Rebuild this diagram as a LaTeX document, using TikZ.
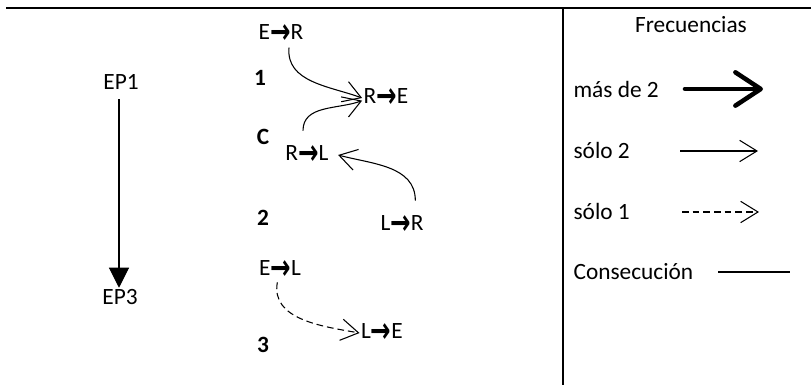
\documentclass[tikz,border=0pt]{standalone}
\usepackage{fontspec}
\usepackage{graphicx}
\setmainfont{Carlito}
\newfontfamily\simbolos{DejaVu Sans}
\usetikzlibrary{arrows.meta}
\definecolor{trazo}{HTML}{000000}
\newcommand{\fl}{\raisebox{-2.6pt}{\scalebox{1.05}[1.5]{\simbolos\bfseries →}}}
\tikzset{
  texto/.style={font=\fontsize{17.5}{20}\selectfont, inner sep=1pt, text=trazo},
  estado/.style={texto},
  etapa/.style={texto, font=\fontsize{17.5}{20}\selectfont\bfseries},
  regla/.style={draw=trazo, line width=1.4pt},
  dos/.style={draw=trazo, line width=.8pt, -{Straight Barb[length=13pt,width=16pt]}},
  uno/.style={dos, dash pattern=on 5pt off 3pt},
  mas/.style={draw=trazo, line width=3.4pt, line cap=round,
    -{Straight Barb[length=19pt,width=25pt,line cap=round,round]}},
  consec/.style={draw=trazo, line width=.8pt},
}
\begin{document}
\begin{tikzpicture}[x=.75pt,y=.75pt]
  \useasboundingbox (0,0) rectangle (811,385);
  \draw[regla] (6,377) -- (811,377);
  \draw[regla] (563,0) -- (563,377);

  % etapas
  \node[texto] (ep1) at (121,303) {EP1};
  \node[texto] (ep3) at (120,88) {EP3};
  \draw[consec, -{Triangle[length=15pt,width=15pt]}] (ep1.south) ++(-2,-8) coordinate (ini) -- (ini |- ep3.north);

  % estados
  \node[estado] (er) at (281,351) {E\fl R};
  \node[estado] (re) at (386,287) {R\fl E};
  \node[estado] (rl) at (307,230) {R\fl L};
  \node[estado] (lr) at (402,160) {L\fl R};
  \node[estado] (el) at (280,115) {E\fl L};
  \node[estado] (le) at (382,52) {L\fl E};
  \node[etapa] (n1) at (260,307) {1};
  \node[etapa] (nc) at (263,248) {C};
  \node[etapa] (n2) at (263,167) {2};
  \node[etapa] (n3) at (263,40) {3};

  \draw[dos] ([xshift=6pt,yshift=-2pt]er.south) to[out=-95,in=160] (re.west);
  \draw[dos] ([xshift=-3pt,yshift=10pt]rl.north) to[out=90,in=200] ([yshift=-2pt]re.west);
  \draw[dos] ([xshift=10pt,yshift=10pt]lr.north) to[out=90,in=-15] ([xshift=6pt]rl.east);
  \draw[uno] ([xshift=-2pt,yshift=-1pt]el.south) to[out=-100,in=170] (le.west);

  % leyenda
  \node[texto] (frec) at (691,360) {Frecuencias};
  \node[texto, anchor=west] (l1) at (572,296) {más de 2};
  \node[texto, anchor=west] (l2) at (572,235) {sólo 2};
  \node[texto, anchor=west] (l3) at (572,174) {sólo 1};
  \node[texto, anchor=west] (l4) at (572,113) {Consecución};
  \draw[mas] (685,296) coordinate (m0) -- (763,296) coordinate (m1);
  \draw[dos] (680,234) coordinate (d0) -- (758,234) coordinate (d1);
  \draw[uno] (682,173) coordinate (u0) -- (759,173) coordinate (u1);
  \draw[consec] (718,113) coordinate (c0) -- (790,113) coordinate (c1);
\end{tikzpicture}
\end{document}
